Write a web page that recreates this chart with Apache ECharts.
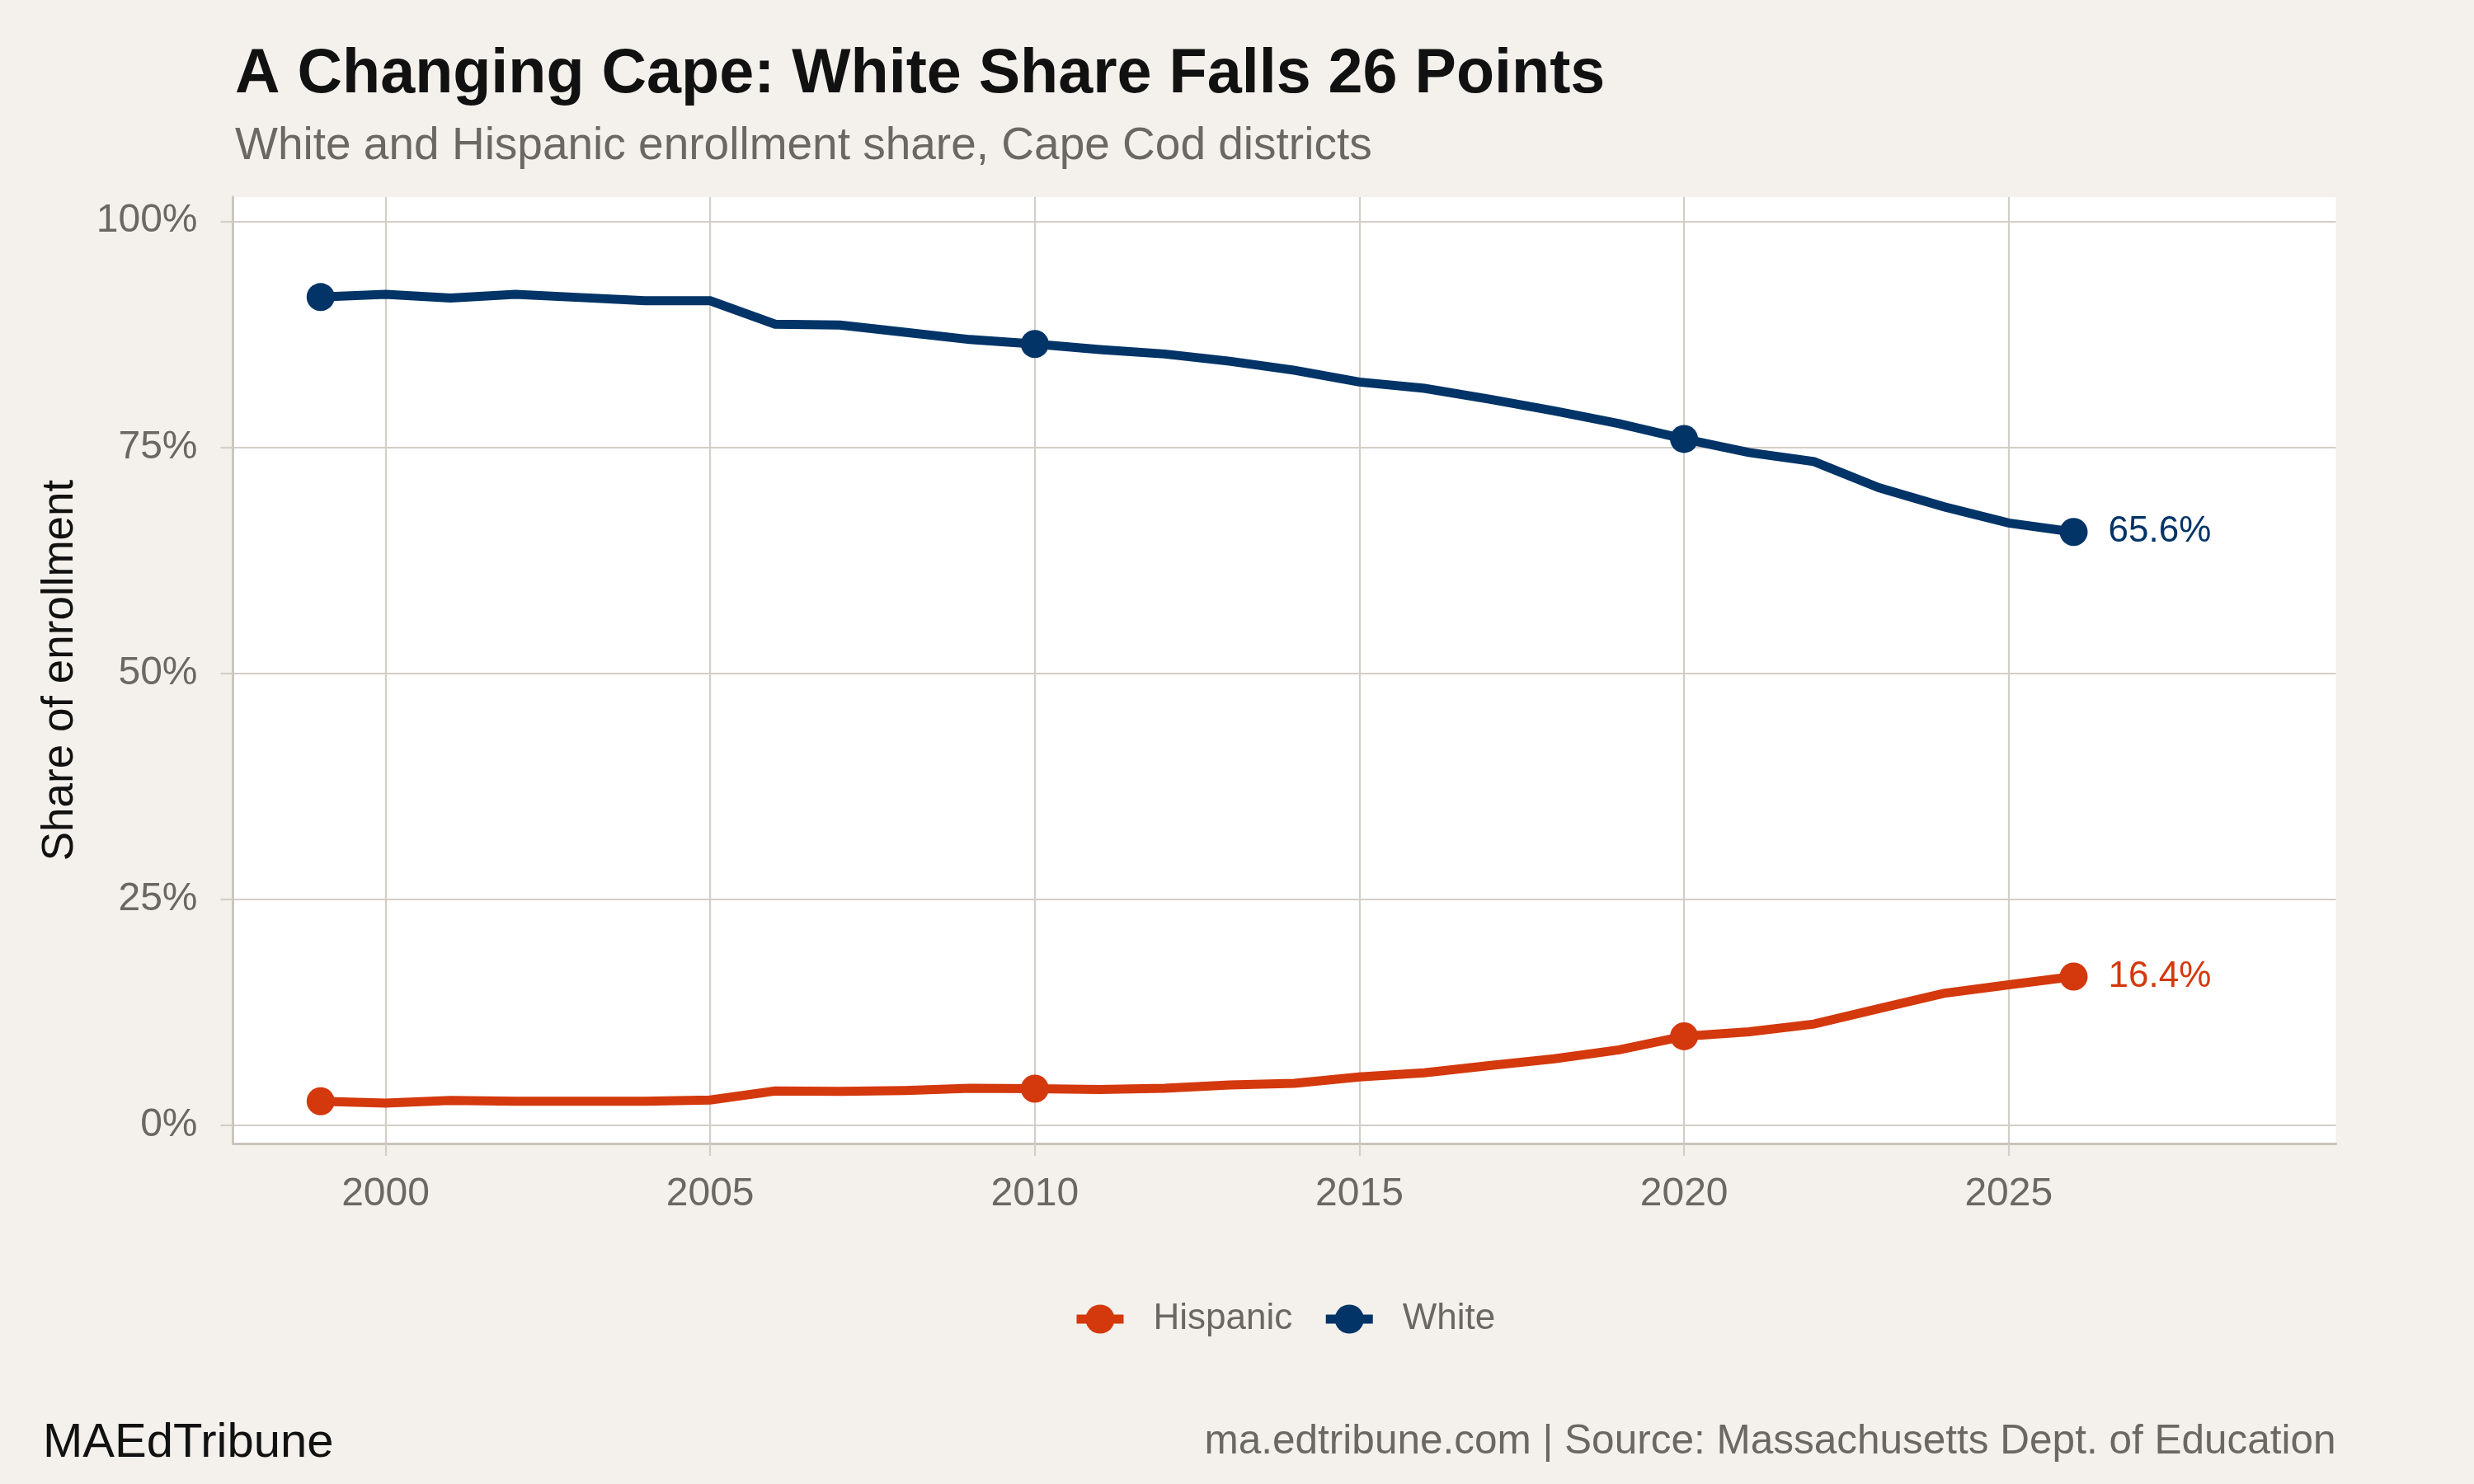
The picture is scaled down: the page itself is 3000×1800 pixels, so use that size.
<!DOCTYPE html>
<html>
<head>
<meta charset="utf-8">
<script src="https://cdn.jsdelivr.net/npm/echarts@6/dist/echarts.min.js"></script>
<style>
  html, body { margin: 0; padding: 0; background: #F4F1EC; }
  #chart { width: 3000px; height: 1800px; }
</style>
</head>
<body>
<div id="chart"></div>
<script>
// ---- data ----
const years = [1999, 2000, 2001, 2002, 2003, 2004, 2005, 2006, 2007, 2008, 2009, 2010, 2011, 2012,
               2013, 2014, 2015, 2016, 2017, 2018, 2019, 2020, 2021, 2022, 2023, 2024, 2025, 2026];
const whiteShare = [91.6, 91.9, 91.5, 91.9, 91.55, 91.2, 91.2, 88.6, 88.5, 87.7, 86.9, 86.4, 85.8, 85.3,
                    84.5, 83.5, 82.2, 81.5, 80.3, 79.0, 77.6, 75.9, 74.4, 73.4, 70.5, 68.4, 66.6, 65.6];
const hispanicShare = [2.6, 2.4, 2.7, 2.6, 2.6, 2.6, 2.75, 3.75, 3.7, 3.8, 4.05, 4.0, 3.9, 4.05,
                       4.4, 4.6, 5.3, 5.75, 6.55, 7.3, 8.3, 9.8, 10.3, 11.15, 12.85, 14.55, 15.5, 16.4];
const markerYears = [1999, 2010, 2020, 2026];
const xTicks = [2000, 2005, 2010, 2015, 2020, 2025];
const yTicks = [0, 25, 50, 75, 100];
const seriesNames = ['Hispanic', 'White'];

const FONT = 'Liberation Sans';
const COLORS = { Hispanic: '#D4380D', White: '#023467' };
const GREY_TEXT = '#6b6762';
const GRID_COLOR = '#d3cec6';

function buildData(values) {
  return years.map((y, i) => {
    const item = { value: [y, values[i]] };
    if (i === years.length - 1) {
      item.label = { show: true };
    }
    return item;
  });
}

function makeSeries(name, values) {
  return {
    name: name,
    type: 'line',
    data: buildData(values),
    symbol: 'circle',
    symbolSize: (val) => markerYears.includes(val[0]) ? 34 : 0,
    showAllSymbol: true,
    lineStyle: { width: 11, color: COLORS[name], cap: 'butt', join: 'miter' },
    itemStyle: { color: COLORS[name] },
    label: {
      show: false,
      position: 'right',
      distance: 25,
      fontFamily: FONT,
      fontSize: 44,
      color: COLORS[name],
      padding: [5, 0, 0, 0],
      formatter: (p) => p.value[1].toFixed(1) + '%'
    },
    emphasis: { disabled: true },
    animation: false,
    z: 3
  };
}

const chart = echarts.init(document.getElementById('chart'), null, { renderer: 'canvas' });

chart.setOption({
  backgroundColor: '#F4F1EC',
  animation: false,
  title: [
    {
      text: 'A Changing Cape: White Share Falls 26 Points',
      left: 285, top: 53, padding: 0,
      textStyle: { fontFamily: FONT, fontSize: 75.5, fontWeight: 'bold', color: '#111111' }
    },
    {
      text: 'White and Hispanic enrollment share, Cape Cod districts',
      left: 285, top: 150, padding: 0,
      textStyle: { fontFamily: FONT, fontSize: 55, fontWeight: 'normal', color: GREY_TEXT }
    },
    {
      text: 'MAEdTribune',
      left: 52, top: 1722, padding: 0,
      textStyle: { fontFamily: FONT, fontSize: 58, fontWeight: 'normal', color: '#111111' }
    },
    {
      text: 'ma.edtribune.com | Source: Massachusetts Dept. of Education',
      right: 167.4, top: 1724, padding: 0,
      textStyle: { fontFamily: FONT, fontSize: 49.5, fontWeight: 'normal', color: GREY_TEXT }
    }
  ],
  legend: {
    data: seriesNames,
    left: 1300,
    top: 1578,
    padding: 0,
    itemWidth: 57,
    itemHeight: 44,
    itemGap: 35,
    lineStyle: { width: 11 },
    textStyle: { fontFamily: FONT, fontSize: 44, color: GREY_TEXT, padding: [0, 0, 0, 31] },
    selectedMode: false
  },
  grid: {
    left: 282.5, right: 167.4, top: 239, bottom: 413,
    show: true, backgroundColor: '#ffffff', borderWidth: 0,
    containLabel: false
  },
  xAxis: {
    type: 'value',
    min: 1997.65,
    max: 2030.04,
    axisLine: { show: true, onZero: false, lineStyle: { color: '#c9c3ba', width: 2.8 } },
    axisTick: { show: true, length: 15, customValues: xTicks, lineStyle: { color: GRID_COLOR, width: 2.2 } },
    axisLabel: {
      customValues: xTicks, margin: 38,
      fontFamily: FONT, fontSize: 48, color: GREY_TEXT,
      formatter: (v) => String(v)
    },
    splitLine: { show: true, lineStyle: { color: GRID_COLOR, width: 2.2 } }
  },
  yAxis: {
    type: 'value',
    min: -2.07,
    max: 102.67,
    name: 'Share of enrollment',
    nameLocation: 'middle',
    nameGap: 183,
    nameRotate: 90,
    nameTextStyle: { fontFamily: FONT, fontSize: 53, color: '#111111' },
    axisLine: { show: true, lineStyle: { color: '#c9c3ba', width: 2.8 } },
    axisTick: { show: true, length: 15, customValues: yTicks, lineStyle: { color: GRID_COLOR, width: 2.2 } },
    axisLabel: {
      customValues: yTicks, margin: 43,
      fontFamily: FONT, fontSize: 48, color: GREY_TEXT,
      padding: [8, 0, 0, 0],
      formatter: (v) => v + '%'
    },
    splitLine: { show: true, lineStyle: { color: GRID_COLOR, width: 2.2 } }
  },
  series: [
    makeSeries('Hispanic', hispanicShare),
    makeSeries('White', whiteShare)
  ]
});
</script>
</body>
</html>
